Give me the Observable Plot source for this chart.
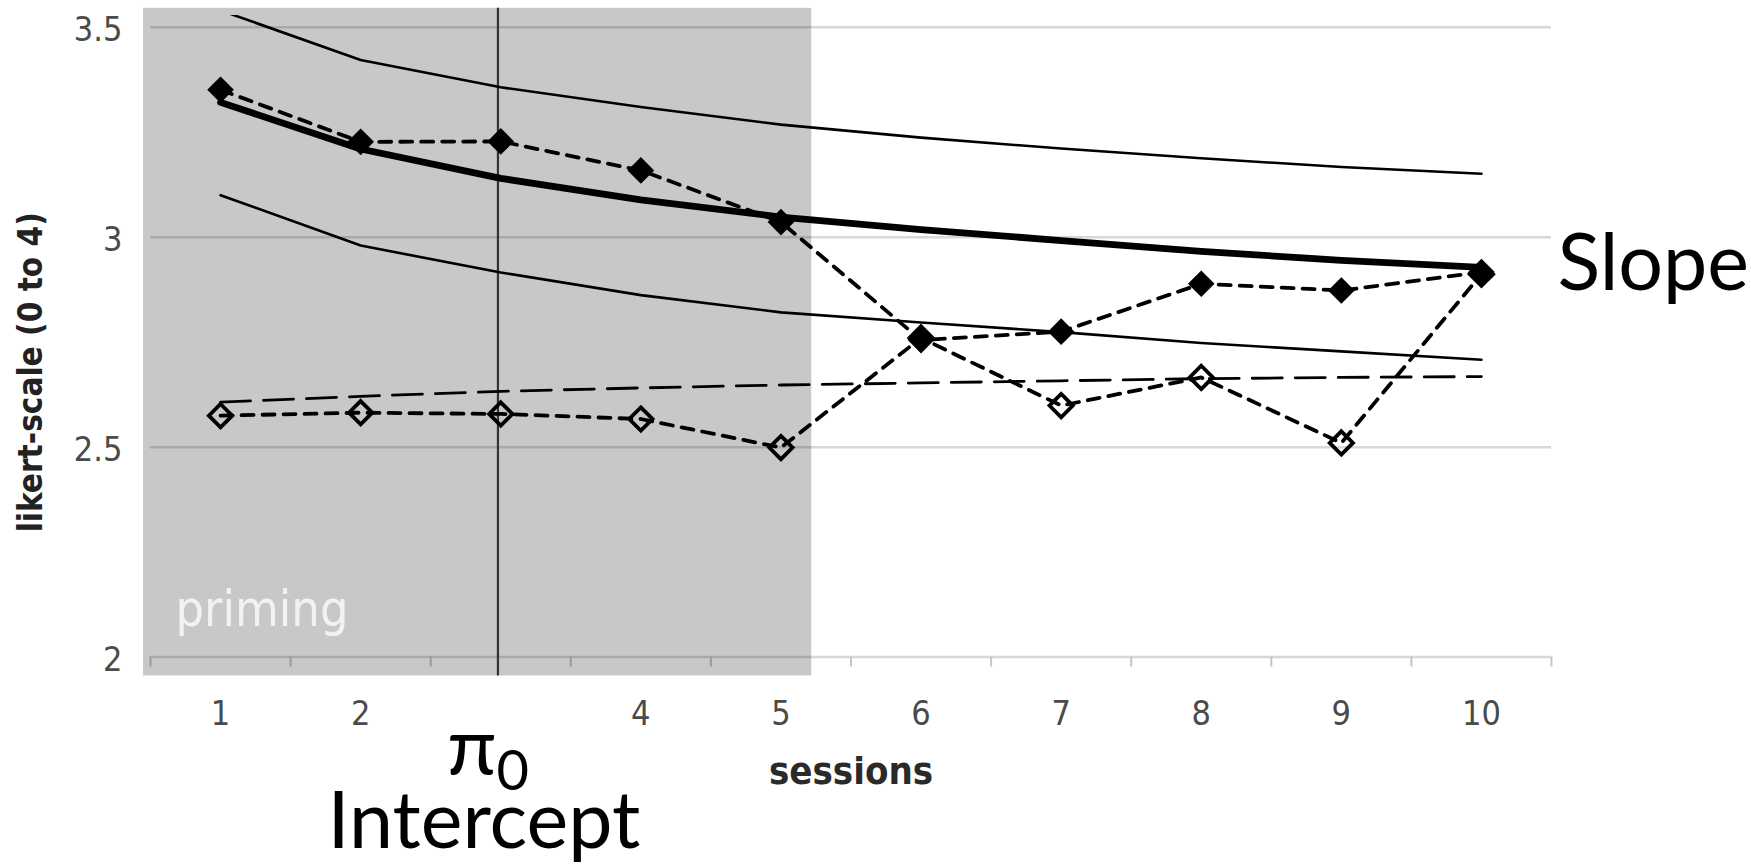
<!DOCTYPE html>
<html><head><meta charset="utf-8">
<script src="https://cdn.jsdelivr.net/npm/d3@7"></script>
<script src="https://cdn.jsdelivr.net/npm/@observablehq/plot@0.6"></script>
<style>
html,body{margin:0;padding:0;background:#fff;}
</style>
</head><body><div id="chart"></div>
<script>
// ---- data ----
const sessions = [1, 2, 3, 4, 5, 6, 7, 8, 9, 10];
const xTickLabels = [1, 2, 4, 5, 6, 7, 8, 9, 10];
const yTickValues = [2, 2.5, 3, 3.5];
const filledSeries = [3.351, 3.227, 3.228, 3.159, 3.036, 2.755, 2.775, 2.889, 2.873, 2.917];
const openSeries   = [2.575, 2.582, 2.579, 2.567, 2.499, 2.760, 2.599, 2.666, 2.510, 2.912];
const fitMid    = [3.321, 3.210, 3.140, 3.089, 3.048, 3.018, 2.992, 2.966, 2.945, 2.928];
const fitUpper  = [3.540, 3.422, 3.357, 3.310, 3.268, 3.237, 3.211, 3.188, 3.167, 3.151];
const fitLower  = [3.100, 2.980, 2.916, 2.862, 2.821, 2.797, 2.774, 2.748, 2.728, 2.708];
const fitDashed = [2.607, 2.621, 2.633, 2.641, 2.648, 2.653, 2.658, 2.663, 2.666, 2.668];
const primingPhase = [{x1: 0.45, x2: 5.22, y1: 1.955, y2: 3.545}];
const interceptSession = [2.98];
const yLabel = "likert-scale (0 to 4)";
const xLabel = "sessions";
const phaseLabel = "priming";
const slopeLabel = "Slope";
const interceptLabel = "Intercept";

const rows = sessions.map((s, i) => ({
  session: s, filled: filledSeries[i], open: openSeries[i],
  mid: fitMid[i], upper: fitUpper[i], lower: fitLower[i], dashed: fitDashed[i]
}));
const boundaries = [...sessions.map(s => s - 0.5), sessions[sessions.length - 1] + 0.5];
const yMin = yTickValues[0];

const baseFont = "'DejaVu Sans Condensed','DejaVu Sans',sans-serif";
const annoFont = "Lato, 'Open Sans', sans-serif";
const last = rows[rows.length - 1];

const chart = Plot.plot({
  width: 1751,
  height: 866,
  marginLeft: 150,
  marginRight: 200,
  marginTop: 15,
  marginBottom: 209.4,
  x: {domain: [0.5, 10.5]},
  y: {domain: [2, 3.5279]},
  style: {fontFamily: baseFont, background: "#fff", overflow: "visible"},
  marks: [
    Plot.gridY(yTickValues, {stroke: "#d8d8d8", strokeOpacity: 1, strokeWidth: 2.5}),
    Plot.ruleX(boundaries, {x: d => d, y1: yMin, y2: yMin, insetBottom: -10, stroke: "#c6c6c6", strokeWidth: 2}),
    Plot.rect(primingPhase, {x1: "x1", x2: "x2", y1: "y1", y2: "y2", fill: "#000", fillOpacity: 0.215}),
    Plot.ruleX(interceptSession, {y1: primingPhase[0].y1, y2: primingPhase[0].y2, stroke: "#333", strokeWidth: 2.2}),
    Plot.text([phaseLabel], {frameAnchor: "bottom-left", dx: 25, dy: -31.6, textAnchor: "start", lineAnchor: "bottom",
      fontSize: 50, fill: "#f2f2f2", fontFamily: baseFont}),
    // fitted curves
    Plot.line(rows, {x: "session", y: "upper", stroke: "#000", strokeWidth: 2.6, clip: true}),
    Plot.line(rows, {x: "session", y: "lower", stroke: "#000", strokeWidth: 2.6, clip: true}),
    Plot.line(rows, {x: "session", y: "dashed", stroke: "#000", strokeWidth: 2.8, strokeDasharray: "30,13"}),
    Plot.line(rows, {x: "session", y: "mid", stroke: "#000", strokeWidth: 6.8}),
    // observed series
    Plot.line(rows, {x: "session", y: "open", stroke: "#000", strokeWidth: 3.8, strokeDasharray: "12,9"}),
    Plot.line(rows, {x: "session", y: "filled", stroke: "#000", strokeWidth: 3.8, strokeDasharray: "12,9"}),
    Plot.dot(rows, {x: "session", y: "open", symbol: "diamond2", r: 10.5, fill: "none", stroke: "#000", strokeWidth: 3.8}),
    Plot.dot(rows, {x: "session", y: "filled", symbol: "diamond2", r: 12, fill: "#000", stroke: "none"}),
    // axes
    Plot.axisY(yTickValues, {tickSize: 0, tickPadding: 28, fontSize: 34, color: "#4a4a4a", label: null, dy: 3,
      tickFormat: d => String(d)}),
    Plot.axisX(xTickLabels, {tickSize: 0, tickPadding: 44, fontSize: 34, color: "#4a4a4a", label: null,
      tickFormat: d => String(d)}),
    Plot.text([yLabel], {frameAnchor: "left", textAnchor: "middle", dx: -119, dy: 36, rotate: -90, fontSize: 33, fontWeight: "bold", fill: "#222"}),
    Plot.text([xLabel], {frameAnchor: "bottom", dy: 126.4, lineAnchor: "bottom", fontSize: 38, fontWeight: "bold", fill: "#2a2a2a"}),
    // annotations
    Plot.text([slopeLabel], {x: () => last.session, y: () => last.mid, dx: 76, dy: 22.5, textAnchor: "start", lineAnchor: "bottom",
      fontSize: 79, fill: "#000", fontFamily: annoFont}),
    Plot.text(interceptSession, {x: d => d, frameAnchor: "bottom", text: () => "π", dx: -26, dy: 117, lineAnchor: "bottom",
      fontSize: 80, fill: "#000", fontFamily: annoFont}),
    Plot.text(interceptSession, {x: d => d, frameAnchor: "bottom", text: () => "0", dx: -1.5, dy: 133, textAnchor: "start", lineAnchor: "bottom",
      fontSize: 56, fill: "#000", fontFamily: annoFont}),
    Plot.text(interceptSession, {x: d => d, frameAnchor: "bottom", text: () => interceptLabel, dx: -14, dy: 191, lineAnchor: "bottom",
      fontSize: 79, fill: "#000", fontFamily: annoFont})
  ]
});
document.getElementById("chart").appendChild(chart);
</script>
</body></html>
